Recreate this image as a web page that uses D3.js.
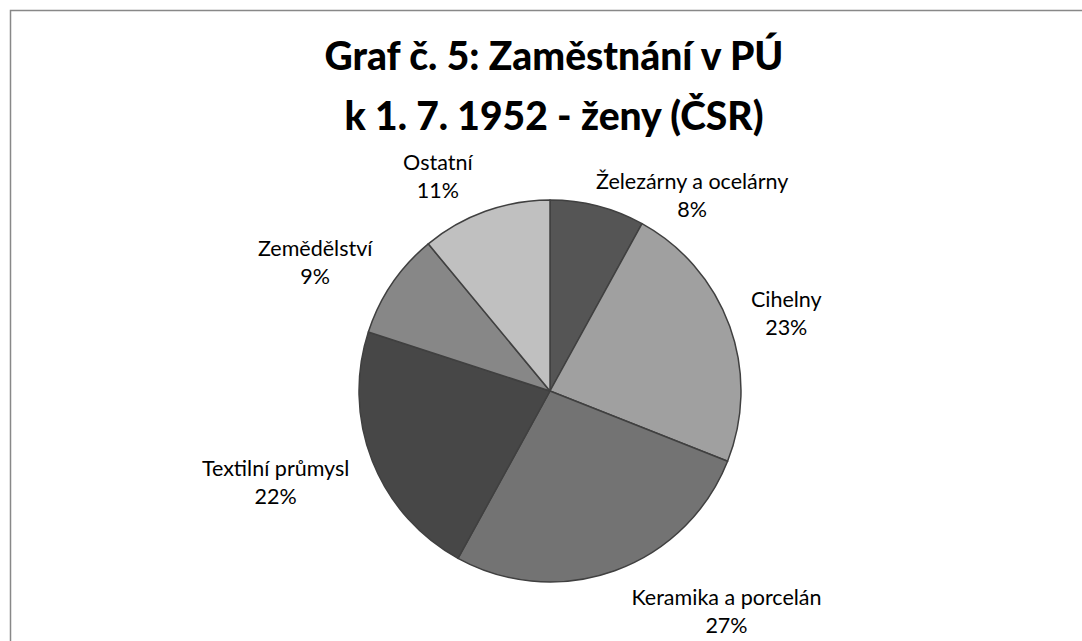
<!DOCTYPE html>
<html lang="cs">
<head>
<meta charset="utf-8">
<title>Graf č. 5</title>
<script src="https://cdn.jsdelivr.net/npm/d3@7"></script>
<style>
    body { margin: 0; background: #fff; }
    .title { font-family: Lato, "Open Sans", sans-serif; font-weight: 900; font-size: 39px; fill: #000; }
    .lbl { font-family: Lato, "Open Sans", sans-serif; font-size: 21.5px; fill: #000; }
</style>
</head>
<body>
<script>
    // data
    var categories = ["Železárny a ocelárny", "Cihelny", "Keramika a porcelán", "Textilní průmysl", "Zemědělství", "Ostatní"];
    var shares = [8, 23, 27, 22, 9, 11];
    var percentLabels = ["8%", "23%", "27%", "22%", "9%", "11%"];
    var titleLines = ["Graf č. 5: Zaměstnání v PÚ", "k 1. 7. 1952 - ženy (ČSR)"];

    var w = 1082, h = 641;
    var cx = 550, cy = 391, r = 191;

    var color = d3.scaleOrdinal()
        .domain(categories)
        .range(["#555555", "#a0a0a0", "#737373", "#474747", "#878787", "#c0c0c0"]);

    // excel moved a few labels by hand
    var nudge = {
        "Železárny a ocelárny": { dx: -13, dy: 25 },
        "Keramika a porcelán": { dx: 4, dy: 8 },
        "Textilní průmysl": { dx: -2, dy: 9 }
    };

    var dataset = categories.map(function(c, i) {
        return { name: c, value: shares[i], pct: percentLabels[i] };
    });

    var svg = d3.select("body").append("svg")
        .attr("width", w)
        .attr("height", h);

    svg.append("rect")
        .attr("x", 10.5).attr("y", 10.5)
        .attr("width", 1200).attr("height", 900)
        .attr("fill", "#fff")
        .attr("stroke", "#888")
        .attr("stroke-width", 1.5);

    svg.selectAll(".title")
        .data(titleLines)
        .enter().append("text")
        .attr("class", "title")
        .attr("text-anchor", "middle")
        .attr("x", 554)
        .attr("y", function(d, i) { return 70 + i * 60; })
        .text(function(d) { return d; });

    var pie = d3.pie().sort(null).value(function(d) { return d.value; });
    var arc = d3.arc().innerRadius(0).outerRadius(r);
    var labelArc = d3.arc().innerRadius(r + 14).outerRadius(r + 14);

    var g = svg.append("g").attr("transform", "translate(" + cx + "," + cy + ")");
    var arcs = pie(dataset);

    g.selectAll("path")
        .data(arcs)
        .enter().append("path")
        .attr("d", arc)
        .attr("fill", function(d) { return color(d.data.name); })
        .attr("stroke", "#404040")
        .attr("stroke-width", 1.5)
        .attr("stroke-linejoin", "round");

    arcs.forEach(function(d) {
        var p = labelArc.centroid(d);
        var a = (d.startAngle + d.endAngle) / 2;
        var side = Math.sin(a) >= 0 ? 1 : -1;
        var n = nudge[d.data.name] || { dx: 0, dy: 0 };

        var t = g.append("text").attr("class", "lbl").attr("text-anchor", "middle");
        var l1 = t.append("tspan").text(d.data.name);
        var l2 = t.append("tspan").text(d.data.pct);
        var bw = Math.max(l1.node().getComputedTextLength(), l2.node().getComputedTextLength());

        var x = p[0] + side * (8 + bw / 2) + n.dx;
        var vc = p[1] - Math.cos(a) * 22 + n.dy;
        var y1 = vc - 7.5;
        l1.attr("x", x).attr("y", y1);
        l2.attr("x", x).attr("y", y1 + 28);
    });
</script>
</body>
</html>
